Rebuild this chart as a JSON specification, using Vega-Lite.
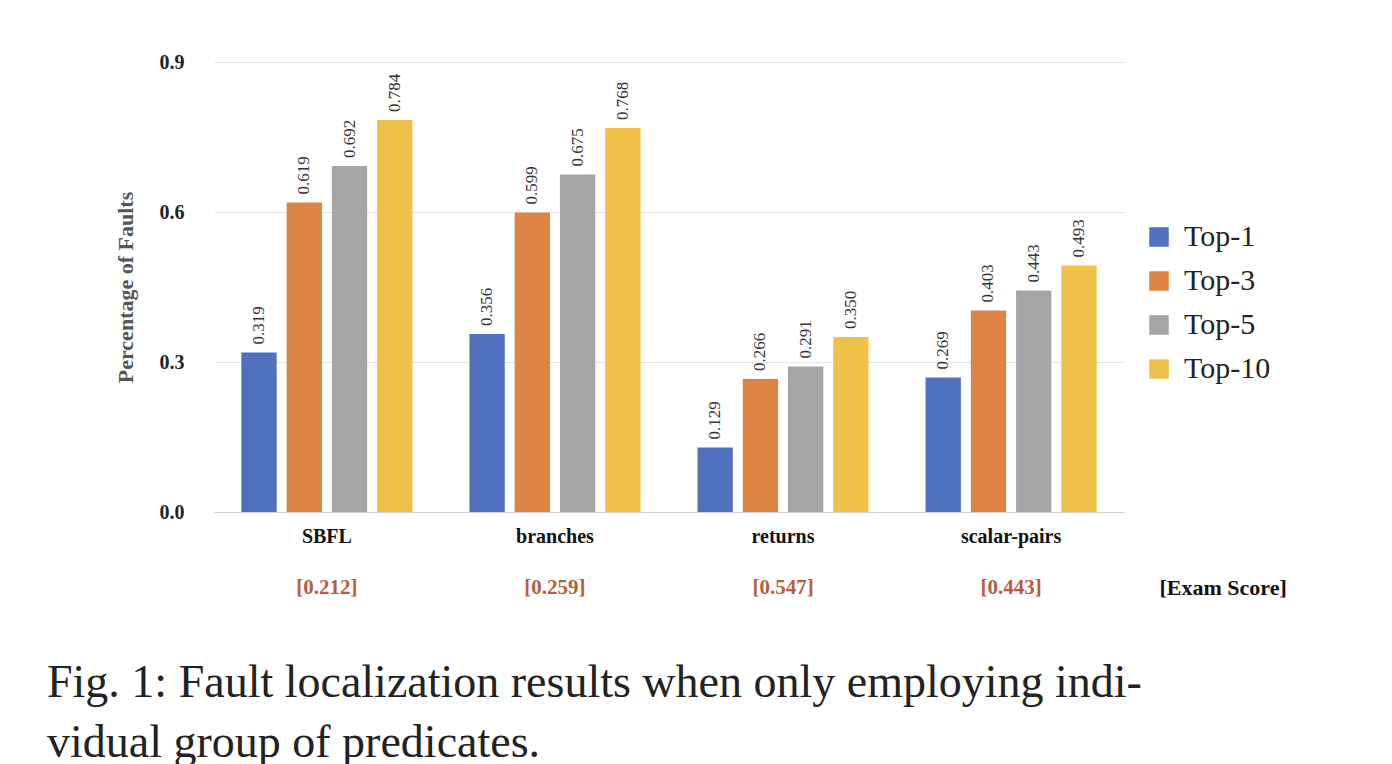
{
  "$schema": "https://vega.github.io/schema/vega-lite/v6.json",
  "width": 910,
  "height": 450,
  "padding": {"left": 47, "top": 52, "right": 0, "bottom": 0},
  "background": "#ffffff",
  "title": {
    "text": ["Fig. 1: Fault localization results when only employing indi-", "vidual group of predicates."],
    "orient": "bottom",
    "anchor": "start",
    "frame": "group",
    "dx": -167,
    "offset": 62,
    "font": "Liberation Serif",
    "fontSize": 46,
    "fontWeight": "normal",
    "color": "#222222",
    "lineHeight": 60
  },
  "datasets": {
    "bars": [
      {"method": "SBFL", "k": "Top-1", "v": 0.319},
      {"method": "SBFL", "k": "Top-3", "v": 0.619},
      {"method": "SBFL", "k": "Top-5", "v": 0.692},
      {"method": "SBFL", "k": "Top-10", "v": 0.784},
      {"method": "branches", "k": "Top-1", "v": 0.356},
      {"method": "branches", "k": "Top-3", "v": 0.599},
      {"method": "branches", "k": "Top-5", "v": 0.675},
      {"method": "branches", "k": "Top-10", "v": 0.768},
      {"method": "returns", "k": "Top-1", "v": 0.129},
      {"method": "returns", "k": "Top-3", "v": 0.266},
      {"method": "returns", "k": "Top-5", "v": 0.291},
      {"method": "returns", "k": "Top-10", "v": 0.350},
      {"method": "scalar-pairs", "k": "Top-1", "v": 0.269},
      {"method": "scalar-pairs", "k": "Top-3", "v": 0.403},
      {"method": "scalar-pairs", "k": "Top-5", "v": 0.443},
      {"method": "scalar-pairs", "k": "Top-10", "v": 0.493}
    ],
    "exam": [
      {"method": "SBFL", "score": "[0.212]", "pos": -0.152},
      {"method": "branches", "score": "[0.259]", "pos": -0.152},
      {"method": "returns", "score": "[0.547]", "pos": -0.152},
      {"method": "scalar-pairs", "score": "[0.443]", "pos": -0.152}
    ]
  },
  "encoding": {
    "x": {
      "field": "method",
      "type": "nominal",
      "sort": ["SBFL", "branches", "returns", "scalar-pairs"],
      "scale": {"paddingInner": 0.25, "paddingOuter": 0.12},
      "axis": {
        "title": null,
        "labelAngle": 0,
        "labelFont": "Liberation Serif",
        "labelFontSize": 20,
        "labelFontWeight": "bold",
        "labelColor": "#111111",
        "labelPadding": 14,
        "ticks": false,
        "domainColor": "#d0d0d0"
      }
    }
  },
  "layer": [
    {
      "data": {"name": "bars"},
      "encoding": {
        "xOffset": {"field": "k", "type": "nominal", "sort": ["Top-1", "Top-3", "Top-5", "Top-10"], "scale": {"paddingInner": 0.22}},
        "y": {
          "field": "v",
          "type": "quantitative",
          "scale": {"domain": [0, 0.9]},
          "axis": {
            "title": "Percentage of Faults",
            "titleFont": "Liberation Serif",
            "titleFontSize": 22,
            "titleColor": "#555555",
            "titleFontWeight": "bold",
            "titlePadding": 22,
            "values": [0, 0.3, 0.6, 0.9],
            "format": ".1f",
            "labelFont": "Liberation Serif",
            "labelFontSize": 20,
            "labelFontWeight": "bold",
            "labelColor": "#222222",
            "labelPadding": 30,
            "ticks": false,
            "domain": false,
            "gridColor": "#e4e4e4"
          }
        }
      },
      "layer": [
        {
          "mark": {"type": "bar"},
          "encoding": {
            "color": {
              "field": "k",
              "type": "nominal",
              "sort": ["Top-1", "Top-3", "Top-5", "Top-10"],
              "scale": {"domain": ["Top-1", "Top-3", "Top-5", "Top-10"], "range": ["#4f71be", "#de8344", "#a5a5a5", "#f1c04b"]},
              "legend": {
                "title": null,
                "orient": "none",
                "legendX": 930,
                "legendY": 160,
                "symbolType": "square",
                "symbolSize": 380,
                "symbolStrokeWidth": 0,
                "labelFont": "Liberation Serif",
                "labelFontSize": 30,
                "labelColor": "#222222",
                "rowPadding": 14,
                "labelOffset": 10
              }
            }
          }
        },
        {
          "mark": {"type": "text", "angle": 270, "align": "left", "baseline": "middle", "dx": 8, "font": "Liberation Serif", "fontSize": 17, "color": "#333333"},
          "encoding": {"text": {"field": "v", "type": "quantitative", "format": ".3f"}}
        }
      ]
    },
    {
      "data": {"name": "exam"},
      "layer": [
        {
          "mark": {"type": "text", "font": "Liberation Serif", "fontSize": 21, "fontWeight": "bold", "color": "#b85c3c"},
          "encoding": {
            "y": {"field": "pos", "type": "quantitative"},
            "text": {"field": "score"}
          }
        },
        {
          "transform": [{"filter": "datum.method == 'scalar-pairs'"}],
          "mark": {"type": "text", "font": "Liberation Serif", "fontSize": 22, "fontWeight": "bold", "color": "#111111", "dx": 212},
          "encoding": {
            "y": {"field": "pos", "type": "quantitative"},
            "text": {"value": "[Exam Score]"}
          }
        }
      ]
    }
  ],
  "config": {"view": {"stroke": null}}
}
